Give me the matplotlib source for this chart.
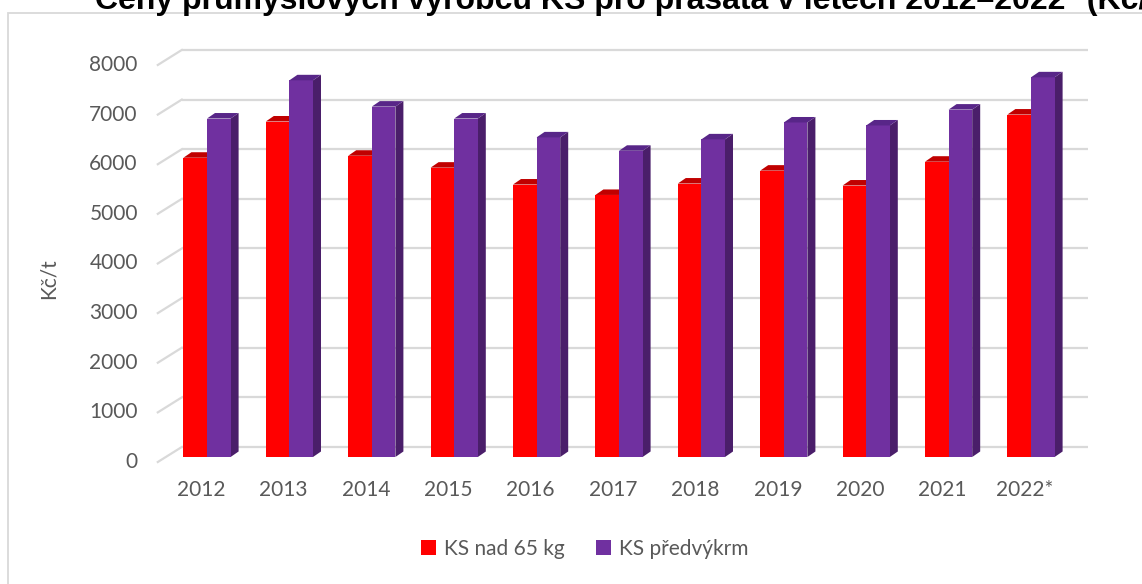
import matplotlib
matplotlib.use("Agg")
import matplotlib.pyplot as plt
from matplotlib.patches import Polygon, Rectangle
import numpy as np

years = ["2012", "2013", "2014", "2015", "2016", "2017", "2018", "2019", "2020", "2021", "2022*"]
ks_nad_65 = [6030, 6760, 6070, 5830, 5490, 5280, 5510, 5770, 5470, 5950, 6900]
ks_predvykrm = [6820, 7590, 7060, 6820, 6440, 6170, 6400, 6740, 6680, 7000, 7650]
yticks = [0, 1000, 2000, 3000, 4000, 5000, 6000, 7000, 8000]
series_names = ["KS nad 65 kg", "KS předvýkrm"]
title = "Ceny průmyslových výrobců KS pro prasata v letech 2012–2022* (Kč/t)"

W, H = 1142, 584
fig = plt.figure(figsize=(W / 100, H / 100), dpi=100)
fig.patch.set_facecolor("white")

# bar plane geometry (pixels)
x_left, x_right = 165.8, 1072.2
y_zero, y_top = 457.0, 457.0 - 8000 * 0.04963
ax = fig.add_axes([x_left / W, 1 - y_zero / H, (x_right - x_left) / W, (y_zero - y_top) / H])
ax.set_xlim(-0.5, 10.5)
ax.set_ylim(0, 8000)
ax.axis("off")

ppx = (x_right - x_left) / 11.0        # px per category unit
ppy = (y_zero - y_top) / 8000.0        # px per value unit
def dx(px): return px / ppx
def dy(px): return px / ppy

# back wall offset, front offset, bar depth
bdx, bdy = dx(16), dy(10)
fdx, fdy = dx(8), dy(5)
ddx, ddy = dx(8), dy(5.5)

txt_c = "#595959"
fs = 15
grid_c = "#d9d9d9"
for t in yticks:
    ax.plot([-0.5 + bdx, 10.5 + bdx], [t + bdy, t + bdy], color=grid_c, lw=1.6, zorder=1, clip_on=False,
            solid_capstyle="butt")
    ax.plot([-0.5 - fdx, -0.5 + bdx], [t - fdy, t + bdy], color=grid_c, lw=1.6, zorder=1, clip_on=False)
    ax.text(-0.5 - fdx - dx(20), t - fdy, str(t), ha="right", va="center", fontsize=fs,
            color=txt_c, family="Lato", clip_on=False)

bw = dx(23.6)
x = np.arange(len(years))
colors = [("#ff0000", "#c00000", "#a00000"), ("#7030a0", "#582688", "#4a1e6a")]
for si, vals in enumerate([ks_nad_65, ks_predvykrm]):
    front, top, side = colors[si]
    offs = (si - 1) * bw
    ax.bar(x + offs, vals, width=bw, align="edge", color=front, zorder=3 + si * 2, clip_on=False,
           label=series_names[si])
    for xi, v in zip(x, vals):
        x0 = xi + offs
        x1 = x0 + bw
        ax.add_patch(Polygon([(x0, v), (x1, v), (x1 + ddx, v + ddy), (x0 + ddx, v + ddy)],
                             closed=True, facecolor=top, edgecolor="none", zorder=3 + si * 2, clip_on=False))
        ax.add_patch(Polygon([(x1, 0), (x1 + ddx, ddy), (x1 + ddx, v + ddy), (x1, v)],
                             closed=True, facecolor=side, edgecolor="none", zorder=2 + si * 2, clip_on=False))

for xi, lab in zip(x, years):
    ax.text(xi - dx(6), -dy(33), lab, ha="center", va="center", fontsize=fs, color=txt_c,
            family="Lato", clip_on=False)

ax.text(-0.5 - dx(117), 8000 * 0.5 - dy(20), "Kč/t", rotation=90, ha="center", va="center",
        fontsize=fs, color=txt_c, family="Lato", clip_on=False)

# legend
leg = fig.legend(handles=ax.containers, labels=series_names, loc="center", ncol=2,
                 bbox_to_anchor=(585 / W, 1 - 549 / H), frameon=False, fontsize=fs,
                 handlelength=0.7, handleheight=0.7, handletextpad=0.4, columnspacing=1.5)
for t in leg.get_texts():
    t.set_color(txt_c)
    t.set_family("Lato")

# chart border
fig.patches.append(Rectangle((8 / W, -0.1), 1.2, 1 - 13 / H + 0.1, transform=fig.transFigure,
                             fill=False, edgecolor="#d9d9d9", lw=1.3, zorder=0))

fig.text(95 / W, 1 - 9 / H, title, ha="left", va="baseline", fontsize=23, fontweight="bold",
         family="Liberation Sans", color="black")

fig.savefig("out.png", dpi=100)
